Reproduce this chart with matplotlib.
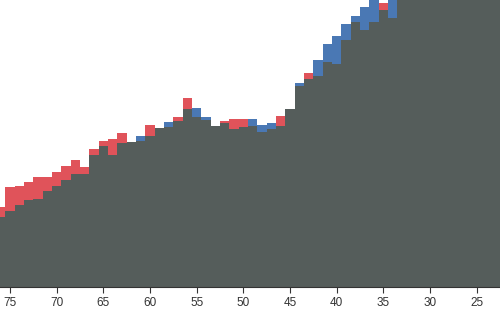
import numpy as np
import matplotlib
matplotlib.use("Agg")
import matplotlib.pyplot as plt

plt.rcParams['font.family'] = ['Liberation Sans', 'DejaVu Sans']

# ages, oldest first (x axis runs from old to young)
ages = list(range(76, 21, -1))

# heights of the two series (arbitrary units)
red = [80.5, 100.3, 101, 105.5, 110, 110, 115.3, 121.3, 127, 120.3,
       138, 146.3, 147.7, 153.7, 144.7, 146, 162, 159.5, 160.3, 169.7,
       189.5, 170.3, 167, 161, 166.3, 168, 168.5, 161.5, 155.5, 158.3,
       171, 177.7, 201, 213.7, 211, 225.3, 223, 247, 265, 257,
       265.3, 284.3, 268.7, 295, 301, 307, 312, 315, 317, 319,
       320, 321, 322, 322, 322]
blue = [70, 76.3, 82, 87, 88, 96.3, 101, 107.3, 113, 113.5,
        132, 141, 132, 144.5, 144.7, 151.3, 151.3, 159.5, 165.3, 166.3,
        178, 178.7, 170.3, 161, 163.7, 157.7, 160.3, 167.7, 162, 164.3,
        161.2, 177.7, 204, 208, 227, 243.5, 251.5, 263.5, 271, 280,
        290, 277, 290, 295, 301, 307, 312, 315, 317, 319,
        320, 321, 322, 322, 322]

RED = '#e0535a'
BLUE = '#4a78b4'
GRAY = '#555d5b'

# stairs wants ascending edges
a = np.array(ages[::-1])
r = np.array(red[::-1])
b = np.array(blue[::-1])
edges = np.append(a - 0.5, a[-1] + 0.5)
both = np.minimum(r, b)

fig = plt.figure(figsize=(5.0, 3.13), dpi=100)
ax = fig.add_axes([0, 0.083, 1, 0.917])

# red and blue full height, the shared part painted gray on top
ax.stairs(r, edges, fill=True, color=RED, linewidth=0)
ax.stairs(b, edges, fill=True, color=BLUE, linewidth=0)
ax.stairs(both, edges, fill=True, color=GRAY, linewidth=0)

ax.set_xlim(76.07, 22.5)
ax.set_ylim(0, 287)
ax.set_xticks(range(75, 24, -5))
ax.set_yticks([])

for s in ['top', 'left', 'right']:
    ax.spines[s].set_visible(False)
ax.spines['bottom'].set_color('#333333')
ax.spines['bottom'].set_linewidth(0.8)
ax.tick_params(axis='x', length=4.5, width=0.8, color='#333333',
               labelsize=8.5, labelcolor='#333333', pad=3)

fig.savefig('out.png', dpi=100, facecolor='white')
